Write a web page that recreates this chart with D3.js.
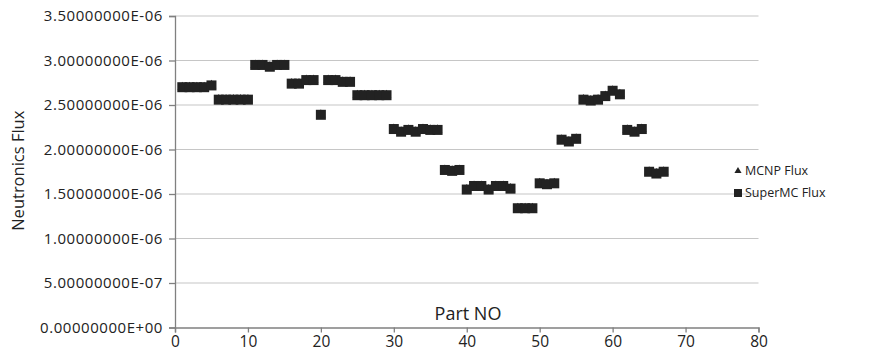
<!DOCTYPE html>
<html>
<head>
<meta charset="utf-8">
<script src="https://cdn.jsdelivr.net/npm/d3@7"></script>
<style>
  body { margin: 0; background: #fff; }
  svg { display: block; font-family: "Open Sans", sans-serif; }
</style>
</head>
<body>
<figure id="chart" style="margin:0"></figure>
<script>
// Part numbers 1..67
const parts = d3.range(1, 68);

// SuperMC flux values (units of 1E-6)
const superMcFlux = [
  2.70, 2.70, 2.70, 2.70, 2.72,
  2.56, 2.56, 2.56, 2.56, 2.56,
  2.95, 2.95, 2.93, 2.95, 2.95,
  2.74, 2.74, 2.78, 2.78,
  2.39,
  2.78, 2.78, 2.76, 2.76,
  2.61, 2.61, 2.61, 2.61, 2.61,
  2.23, 2.20, 2.22, 2.20, 2.23, 2.22, 2.22,
  1.77, 1.76, 1.77,
  1.55, 1.59, 1.59, 1.55, 1.59, 1.59, 1.56,
  1.34, 1.34, 1.34,
  1.62, 1.61, 1.62,
  2.11, 2.09, 2.12,
  2.56, 2.55, 2.56, 2.60, 2.66, 2.62,
  2.22, 2.20, 2.23,
  1.75, 1.73, 1.75
];

// MCNP flux values, hidden under the SuperMC markers in the picture
const mcnpFlux = superMcFlux.slice();

const xTicks = [0, 10, 20, 30, 40, 50, 60, 70, 80];
const yTicks = [0, 0.5, 1.0, 1.5, 2.0, 2.5, 3.0, 3.5];
const legendLabels = ["MCNP Flux", "SuperMC Flux"];

const width = 875, height = 356;
const plotLeft = 175, plotRight = 758.5, plotTop = 16, plotBottom = 327.5;

const svg = d3.select("#chart").append("svg")
  .attr("width", width)
  .attr("height", height);

svg.append("rect").attr("width", width).attr("height", height).attr("fill", "#fff");

const x = d3.scaleLinear().domain([0, 80]).range([plotLeft, plotRight]);
const y = d3.scaleLinear().domain([0, 3.5]).range([plotBottom, plotTop]);

// Horizontal gridlines
svg.append("g")
  .selectAll("line")
  .data(yTicks.filter(d => d > 0))
  .enter()
  .append("line")
  .attr("x1", plotLeft).attr("x2", plotRight)
  .attr("y1", d => y(d)).attr("y2", d => y(d))
  .attr("stroke", "#c6c6c6")
  .attr("stroke-width", 1.2);

// Y axis
const yAxis = svg.append("g")
  .attr("transform", "translate(" + plotLeft + ",0)")
  .call(d3.axisLeft(y).tickValues(yTicks).tickSize(6).tickPadding(6)
    .tickFormat(d => d === 0 ? "0.00000000E+00" : d3.format(".8e")(d * 1e-6).replace("e-", "E-0")));
yAxis.select(".domain").attr("stroke", "#808080").attr("stroke-width", 1.3);
yAxis.selectAll(".tick line").attr("stroke", "#808080").attr("stroke-width", 1.3);
yAxis.selectAll("text")
  .attr("font-size", 15)
  .attr("letter-spacing", 0.55)
  .attr("fill", "#222")
  .attr("font-family", "Open Sans");

// X axis
const xAxis = svg.append("g")
  .attr("transform", "translate(0," + plotBottom + ")")
  .call(d3.axisBottom(x).tickValues(xTicks).tickSize(5).tickPadding(3));
xAxis.select(".domain").attr("stroke", "#808080").attr("stroke-width", 1.3);
xAxis.selectAll(".tick line").attr("stroke", "#808080").attr("stroke-width", 1.3);
xAxis.selectAll("text")
  .attr("font-size", 15.5)
  .attr("fill", "#222")
  .attr("font-family", "Open Sans");

// Axis titles
svg.append("text")
  .attr("transform", "translate(24," + ((plotTop + plotBottom) / 2 - 1) + ") rotate(-90)")
  .attr("text-anchor", "middle")
  .attr("font-size", 16.5)
  .attr("fill", "#222")
  .text("Neutronics Flux");

svg.append("text")
  .attr("x", 468).attr("y", 320)
  .attr("text-anchor", "middle")
  .attr("font-size", 18)
  .attr("fill", "#222")
  .text("Part NO");

// MCNP triangles (drawn first, sit under the squares)
svg.append("g")
  .selectAll("path")
  .data(parts)
  .enter()
  .append("path")
  .attr("d", d3.symbol().type(d3.symbolTriangle).size(40))
  .attr("transform", (d, i) => "translate(" + x(d) + "," + y(mcnpFlux[i]) + ")")
  .attr("fill", "#222");

// SuperMC squares
const sq = 10;
svg.append("g")
  .selectAll("rect")
  .data(parts)
  .enter()
  .append("rect")
  .attr("x", d => x(d) - sq / 2)
  .attr("y", (d, i) => y(superMcFlux[i]) - sq / 2)
  .attr("width", sq)
  .attr("height", sq)
  .attr("fill", "#222");

// Legend
const legend = svg.append("g").attr("transform", "translate(738,171)");
legend.append("path")
  .attr("d", d3.symbol().type(d3.symbolTriangle).size(22))
  .attr("fill", "#222");
legend.append("rect")
  .attr("x", -4).attr("y", 18).attr("width", 8).attr("height", 8)
  .attr("fill", "#222");
legend.selectAll("text")
  .data(legendLabels)
  .enter()
  .append("text")
  .attr("x", 7)
  .attr("y", (d, i) => i * 22 + 4)
  .attr("font-size", 12.5)
  .attr("fill", "#222")
  .text(d => d);
</script>
</body>
</html>
